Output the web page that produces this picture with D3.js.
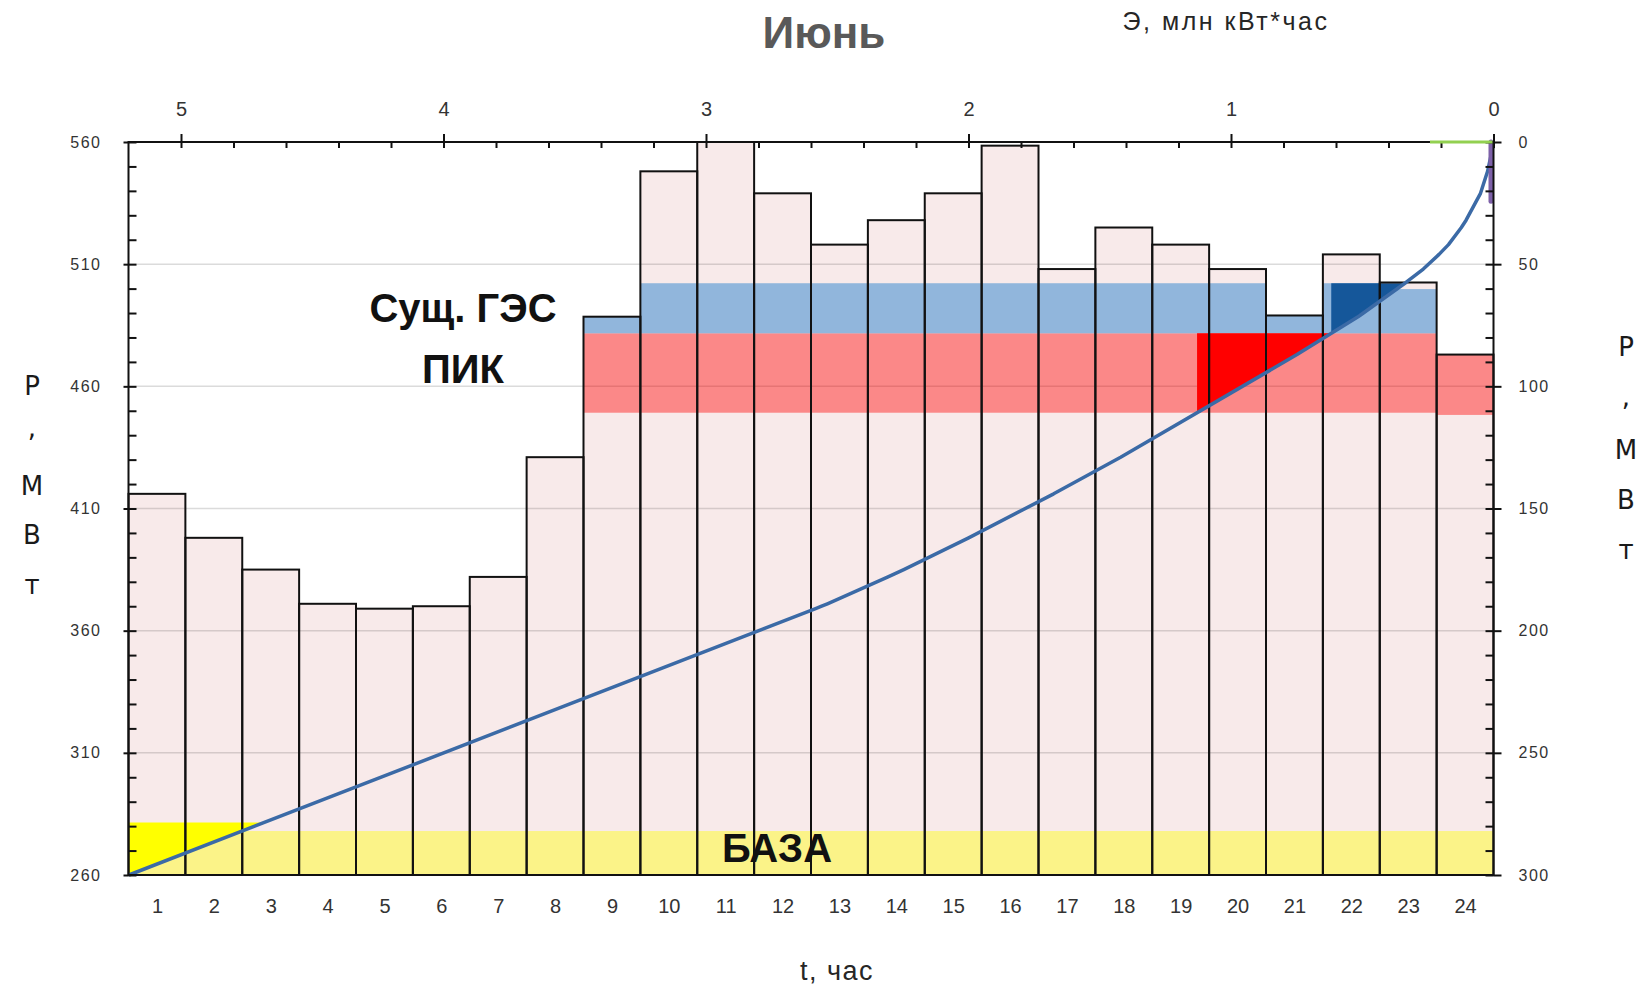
<!DOCTYPE html>
<html>
<head>
<meta charset="utf-8">
<script src="https://cdn.jsdelivr.net/npm/d3@7"></script>
<style>
  html, body { margin: 0; background: #fff; }
  svg { display: block; }
</style>
</head>
<body>
<svg id="chart" width="1650" height="990"></svg>
<script>
// Hourly load for June, MW
const hourLabels = ["1","2","3","4","5","6","7","8","9","10","11","12","13","14","15","16","17","18","19","20","21","22","23","24"];
const loadMW = [416, 398, 385, 371, 369, 370, 382, 431, 488.5, 548, 560, 539, 518, 528, 539, 558.5, 508, 525, 518, 508, 489, 514, 502.5, 473];

// Axis ticks
const powerTicks = [260, 310, 360, 410, 460, 510, 560];
const reserveTicks = [0, 50, 100, 150, 200, 250, 300];
const energyTicks = [5, 4, 3, 2, 1, 0];

// Zones of the load graph, MW
const baseBand = [260, 278];                 // БАЗА
const baseFillTop = 281.5;                   // base block cut by the integral curve
const peakLow  = [null,null,null,null,null,null,null,null, 449.2,449.2,449.2,449.2,449.2,449.2,449.2,449.2,449.2,449.2,449.2,449.2,449.2,449.2,449.2, 448.3];
const peakHigh = [null,null,null,null,null,null,null,null, 481.7,481.7,481.7,481.7,481.7,481.7,481.7,481.7,481.7,481.7,481.7,481.7,481.7,481.7,481.7, 473.2];
const hydroLow  = [null,null,null,null,null,null,null,null, 481.7,481.7,481.7,481.7,481.7,481.7,481.7,481.7,481.7,481.7,481.7,481.7,481.7,481.7,481.7, null];
const hydroHigh = [null,null,null,null,null,null,null,null, 488.5,502.2,502.2,502.2,502.2,502.2,502.2,502.2,502.2,502.2,502.2,502.2,489.2,502.2,499.8, null];
const peakFill = [449.2, 481.7];             // peak block on the integral curve
const hydroFill = [481.7, 502.2];            // existing HPP block on the integral curve
const greenSegment = [0, 0.242];             // Э range at P = 0
const purpleSegment = [0, 24.3];             // P range (right axis) at Э = 0

const X0 = 128.5, X1 = 1493.5, Y0 = 142, Y1 = 875;

const svg = d3.select("#chart");
const x  = d3.scaleLinear().domain([0, 24]).range([X0, X1]);
const y  = d3.scaleLinear().domain([260, 560]).range([Y1, Y0]);
const yR = d3.scaleLinear().domain([300, 0]).range([Y1, Y0]);
const xE = d3.scaleLinear().domain([5.2, 0]).range([X0, X1]);

const narrow = "'Liberation Sans Narrow', 'Arial Narrow', 'Liberation Sans', sans-serif";

// Energy above a power level, млн кВт*час
const energyAbove = L => d3.sum(loadMW, v => Math.max(0, v - L)) / 1000;
const levels = Array.from(new Set([260, 560, ...loadMW])).sort((a, b) => a - b);
const curvePts = levels.map(L => [xE(energyAbove(L)), y(L)]);

function curveBlock(lo, hi) {
  const inner = levels.filter(L => L > lo && L < hi).sort((a, b) => b - a);
  return [
    [xE(energyAbove(lo)), y(lo)],
    [xE(energyAbove(lo)), y(hi)],
    [xE(energyAbove(hi)), y(hi)],
    ...inner.map(L => [xE(energyAbove(L)), y(L)])
  ];
}

const plot = svg.append("g");

// bar fills
plot.selectAll("rect.bar").data(loadMW).join("rect")
  .attr("class", "bar")
  .attr("x", (d, i) => x(i)).attr("width", x(1) - x(0))
  .attr("y", d => y(d)).attr("height", d => y(260) - y(d))
  .attr("fill", "#f8eaea");

// grid
plot.selectAll("line.grid").data(powerTicks.slice(1, -1)).join("line")
  .attr("class", "grid")
  .attr("x1", X0).attr("x2", X1).attr("y1", d => y(d)).attr("y2", d => y(d))
  .attr("stroke", "rgba(0,0,0,0.14)").attr("stroke-width", 1.5);

// base band
plot.append("rect")
  .attr("x", x(0)).attr("width", x(24) - x(0))
  .attr("y", y(baseBand[1])).attr("height", y(baseBand[0]) - y(baseBand[1]))
  .attr("fill", "#ffff00").attr("fill-opacity", 0.42);

// peak band
plot.selectAll("rect.peak").data(loadMW.map((d, i) => i).filter(i => peakLow[i] !== null)).join("rect")
  .attr("class", "peak")
  .attr("x", i => x(i)).attr("width", x(1) - x(0))
  .attr("y", i => y(peakHigh[i])).attr("height", i => y(peakLow[i]) - y(peakHigh[i]))
  .attr("fill", "#ff0000").attr("fill-opacity", 0.42);

// existing HPP band
plot.selectAll("rect.hydro").data(loadMW.map((d, i) => i).filter(i => hydroLow[i] !== null)).join("rect")
  .attr("class", "hydro")
  .attr("x", i => x(i)).attr("width", x(1) - x(0))
  .attr("y", i => y(hydroHigh[i])).attr("height", i => y(hydroLow[i]) - y(hydroHigh[i]))
  .attr("fill", "#5b9bd5").attr("fill-opacity", 0.66);

// blocks on the integral curve
const poly = d3.line();
plot.append("path").attr("d", poly(curveBlock(baseBand[0], baseFillTop)) + "Z").attr("fill", "#ffff00");
plot.append("path").attr("d", poly(curveBlock(peakFill[0], peakFill[1])) + "Z").attr("fill", "#ff0000");
plot.append("path").attr("d", poly(curveBlock(hydroFill[0], hydroFill[1])) + "Z").attr("fill", "#15579a");

// bar outlines
plot.selectAll("rect.outline").data(loadMW).join("rect")
  .attr("class", "outline")
  .attr("x", (d, i) => x(i)).attr("width", x(1) - x(0))
  .attr("y", d => y(d)).attr("height", d => y(260) - y(d))
  .attr("fill", "none").attr("stroke", "#111").attr("stroke-width", 2);

// integral curve
plot.append("path").attr("d", d3.line()(curvePts))
  .attr("fill", "none").attr("stroke", "#3b6aa6").attr("stroke-width", 3.5)
  .attr("stroke-linejoin", "round");

// short segments at the top right corner
plot.append("line")
  .attr("x1", xE(0) - 2.5).attr("x2", xE(0) - 2.5)
  .attr("y1", yR(purpleSegment[0])).attr("y2", yR(purpleSegment[1]))
  .attr("stroke", "#7d60a8").attr("stroke-width", 5).attr("stroke-linecap", "round");

// axes
function styleAxis(g) {
  g.select(".domain").remove();
  g.selectAll(".tick line").attr("stroke", "#111").attr("stroke-width", 2);
}
const minorP = d3.range(260, 561, 10);
const minorR = d3.range(0, 301, 10);
const minorE = d3.range(0, 26).map(k => k * 0.2).filter(v => v <= 5.2);

svg.append("g").attr("transform", `translate(${X0},0)`)
  .call(d3.axisRight(y).tickValues(minorP).tickSize(8).tickFormat("")).call(styleAxis);
svg.append("g").attr("transform", `translate(${X0},0)`)
  .call(d3.axisLeft(y).tickValues(powerTicks).tickSize(5).tickPadding(22)).call(styleAxis)
  .selectAll("text").attr("font-family", "'Liberation Sans', sans-serif").attr("font-size", 16)
  .attr("letter-spacing", 1.5).attr("fill", "#333");

svg.append("g").attr("transform", `translate(${X1},0)`)
  .call(d3.axisLeft(yR).tickValues(minorR).tickSize(8).tickFormat("")).call(styleAxis);
svg.append("g").attr("transform", `translate(${X1},0)`)
  .call(d3.axisRight(yR).tickValues(reserveTicks).tickSize(8).tickPadding(17)).call(styleAxis)
  .selectAll("text").attr("font-family", "'Liberation Sans', sans-serif").attr("font-size", 16)
  .attr("letter-spacing", 1.5).attr("fill", "#333");

svg.append("g").attr("transform", `translate(0,${Y0})`)
  .call(d3.axisBottom(xE).tickValues(minorE).tickSize(6).tickFormat("")).call(styleAxis);
svg.append("g").attr("transform", `translate(0,${Y0})`)
  .call(d3.axisTop(xE).tickValues(energyTicks).tickSize(8).tickPadding(18).tickFormat(d3.format("d")))
  .call(styleAxis)
  .selectAll("text").attr("font-family", narrow).attr("font-size", 20).attr("fill", "#333");

svg.append("g").attr("transform", `translate(0,${Y1})`)
  .call(d3.axisBottom(x).tickValues(d3.range(24).map(i => i + 0.5)).tickSize(0).tickPadding(24)
    .tickFormat((d, i) => hourLabels[i])).call(styleAxis)
  .selectAll("text").attr("font-family", narrow).attr("font-size", 20).attr("fill", "#333");

// frame
svg.append("rect").attr("x", X0).attr("y", Y0).attr("width", X1 - X0).attr("height", Y1 - Y0)
  .attr("fill", "none").attr("stroke", "#111").attr("stroke-width", 2);
// green segment drawn over the frame edge
svg.append("line")
  .attr("x1", xE(greenSegment[0]) - 1).attr("x2", xE(greenSegment[1]))
  .attr("y1", yR(0)).attr("y2", yR(0))
  .attr("stroke", "#92d050").attr("stroke-width", 3);

// texts
svg.append("text").attr("x", 824).attr("y", 48).attr("text-anchor", "middle")
  .attr("font-family", "'Liberation Sans', sans-serif").attr("font-weight", "bold")
  .attr("font-size", 44).attr("fill", "#595959").text("Июнь");
svg.append("text").attr("x", 1226).attr("y", 30).attr("text-anchor", "middle")
  .attr("font-family", "'Liberation Sans', sans-serif").attr("font-size", 25)
  .attr("letter-spacing", 2.5).attr("fill", "#262626").text("Э, млн кВт*час");
svg.append("text").attr("x", 837).attr("y", 980).attr("text-anchor", "middle")
  .attr("font-family", "'Liberation Sans', sans-serif").attr("font-size", 27)
  .attr("letter-spacing", 1.5).attr("fill", "#262626").text("t, час");

const boldLabel = (tx, ty, s) => svg.append("text").attr("x", tx).attr("y", ty)
  .attr("text-anchor", "middle").attr("font-family", "'Liberation Sans', sans-serif")
  .attr("font-weight", "bold").attr("font-size", 40).attr("fill", "#111").text(s);
boldLabel(463, 322, "Сущ. ГЭС");
boldLabel(463, 383, "ПИК");
boldLabel(777, 862, "БАЗА");

const stacked = ["Р", ",", "М", "В", "т"];
function stackedLabel(cx, ys) {
  svg.append("g").selectAll("text").data(stacked).join("text")
    .attr("x", cx).attr("y", (d, i) => ys[i]).attr("text-anchor", "middle")
    .attr("font-family", "'DejaVu Sans', sans-serif").attr("font-size", 26)
    .attr("fill", "#1a1a1a").text(d => d);
}
stackedLabel(32, [395, 437, 495, 544, 594]);
stackedLabel(1626, [356, 406, 459, 509, 559]);
</script>
</body>
</html>
